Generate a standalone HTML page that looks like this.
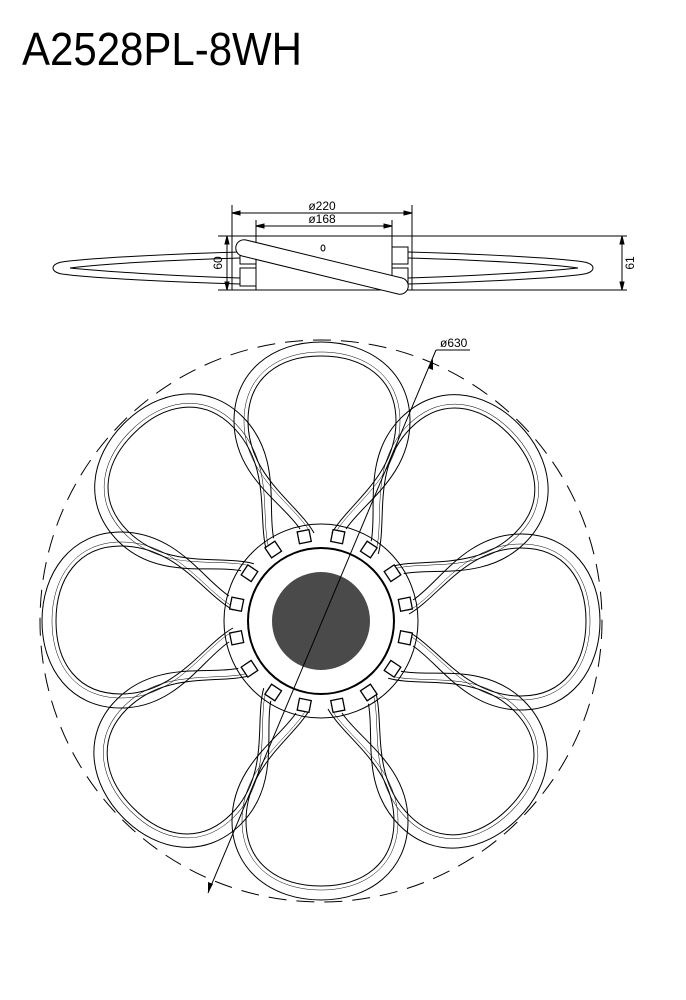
<!DOCTYPE html>
<html><head><style>
html,body{margin:0;padding:0;background:#fff;}
svg{display:block;}
</style></head><body>
<svg width="686" height="1000" viewBox="0 0 686 1000" xmlns="http://www.w3.org/2000/svg">
<text x="22" y="65" font-family="Liberation Sans, sans-serif" font-size="46" fill="#000" textLength="280" lengthAdjust="spacingAndGlyphs">A2528PL-8WH</text>

<!-- side view -->
<g stroke="#000" fill="none" stroke-width="1">
  <line x1="232" y1="205" x2="232" y2="290"/>
  <line x1="412" y1="205" x2="412" y2="290"/>
  <line x1="256" y1="220" x2="256" y2="236"/>
  <line x1="392" y1="220" x2="392" y2="236"/>
  <line x1="232" y1="213" x2="412" y2="213"/>
  <line x1="256" y1="226" x2="392" y2="226"/>
  <polygon points="232,213 240,211 240,215" fill="#000"/>
  <polygon points="412,213 404,211 404,215" fill="#000"/>
  <polygon points="256,226 264,224 264,228" fill="#000"/>
  <polygon points="392,226 384,224 384,228" fill="#000"/>
  <line x1="218" y1="236" x2="627" y2="236"/>
  <line x1="218" y1="290" x2="627" y2="290"/>
  <line x1="227" y1="236" x2="227" y2="290"/>
  <polygon points="227,236 225,244 229,244" fill="#000"/>
  <polygon points="227,290 225,282 229,282" fill="#000"/>
  <line x1="622" y1="236" x2="622" y2="290"/>
  <polygon points="622,236 620,244 624,244" fill="#000"/>
  <polygon points="622,290 620,282 624,282" fill="#000"/>
  <rect x="256" y="236" width="136" height="54"/>
  <path d="M240,252 C170,254 90,258 62,262 C50,264 50,272 62,274 C90,278 170,282 240,284"/>
  <path d="M240,258 C170,260 100,264 70,268 C100,271 170,276 240,278"/>
  <path d="M408,252 C480,254 560,258 584,262 C596,264 596,272 584,274 C560,278 480,282 408,284"/>
  <path d="M408,258 C480,260 550,264 578,268 C550,271 480,276 408,278"/>
  <rect x="240" y="247" width="16" height="17" fill="#fff"/>
  <rect x="240" y="268" width="16" height="18" fill="#fff"/>
  <rect x="392" y="247" width="16" height="17" fill="#fff"/>
  <rect x="392" y="268" width="16" height="18" fill="#fff"/>
  <path d="M246,240 L402,278 A8,8 0 0 1 398,294 L242,256 A8,8 0 0 1 246,240 Z" fill="#fff"/>
  <ellipse cx="323" cy="248" rx="2" ry="3"/>
</g>
<text x="322" y="210" font-family="Liberation Sans, sans-serif" font-size="12" text-anchor="middle">ø220</text>
<text x="322" y="223" font-family="Liberation Sans, sans-serif" font-size="12" text-anchor="middle">ø168</text>
<text transform="translate(222,263) rotate(-90)" font-family="Liberation Sans, sans-serif" font-size="12" text-anchor="middle">60</text>
<text transform="translate(634,263) rotate(-90)" font-family="Liberation Sans, sans-serif" font-size="12" text-anchor="middle">61</text>

<!-- plan view -->
<circle cx="321" cy="621" r="281" fill="none" stroke="#000" stroke-width="1" stroke-dasharray="18,10"/>
<defs>
  <g id="pc">
    <path d="M -21,-92 C -38,-118 -87,-145 -87,-200 C -87,-250 -48,-279 0,-279 C 48,-279 89,-250 89,-200 C 89,-145 42,-118 25,-92"/>
    <path d="M -7,-88 C -24,-118 -73,-145 -73,-200 C -73,-243 -42,-265 0,-265 C 42,-265 75,-243 75,-200 C 75,-145 28,-118 11,-88"/>
    <path stroke-width="0.5" d="M -11,-89 C -28,-118 -77,-145 -77,-200 C -77,-245 -44,-269 0,-269 C 44,-269 79,-245 79,-200 C 79,-145 32,-118 15,-89"/>
  </g>
</defs>
<g transform="translate(321,621)">
  <g fill="none" stroke="#000" stroke-width="1">
    <use href="#pc"/><use href="#pc" transform="rotate(45)"/><use href="#pc" transform="rotate(90)"/><use href="#pc" transform="rotate(135)"/>
    <use href="#pc" transform="rotate(180)"/><use href="#pc" transform="rotate(225)"/><use href="#pc" transform="rotate(270)"/><use href="#pc" transform="rotate(315)"/>
  </g>
  <circle r="97" fill="none" stroke="#000" stroke-width="1"/>
  <circle r="73" fill="#fff" stroke="#000" stroke-width="2"/>
  <circle r="49" fill="#4a4a4a"/>
  <g fill="#fff" stroke="#000" stroke-width="1.3">
    <rect x="-6" y="-92" width="12" height="12" transform="rotate(11.25)"/>
    <rect x="-6" y="-92" width="12" height="12" transform="rotate(33.75)"/>
    <rect x="-6" y="-92" width="12" height="12" transform="rotate(56.25)"/>
    <rect x="-6" y="-92" width="12" height="12" transform="rotate(78.75)"/>
    <rect x="-6" y="-92" width="12" height="12" transform="rotate(101.25)"/>
    <rect x="-6" y="-92" width="12" height="12" transform="rotate(123.75)"/>
    <rect x="-6" y="-92" width="12" height="12" transform="rotate(146.25)"/>
    <rect x="-6" y="-92" width="12" height="12" transform="rotate(168.75)"/>
    <rect x="-6" y="-92" width="12" height="12" transform="rotate(191.25)"/>
    <rect x="-6" y="-92" width="12" height="12" transform="rotate(213.75)"/>
    <rect x="-6" y="-92" width="12" height="12" transform="rotate(236.25)"/>
    <rect x="-6" y="-92" width="12" height="12" transform="rotate(258.75)"/>
    <rect x="-6" y="-92" width="12" height="12" transform="rotate(281.25)"/>
    <rect x="-6" y="-92" width="12" height="12" transform="rotate(303.75)"/>
    <rect x="-6" y="-92" width="12" height="12" transform="rotate(326.25)"/>
    <rect x="-6" y="-92" width="12" height="12" transform="rotate(348.75)"/>
  </g>
</g>
<!-- ø630 leader -->
<line x1="436" y1="350" x2="208" y2="893" stroke="#000" stroke-width="1"/>
<line x1="436" y1="350" x2="470" y2="350" stroke="#000" stroke-width="1"/>
<polygon points="208,893 208,882 213,884" fill="#000"/>
<polygon points="433,359 433,370 428,368" fill="#000"/>
<text x="440" y="347" font-family="Liberation Sans, sans-serif" font-size="12">ø630</text>
</svg>
</body></html>
